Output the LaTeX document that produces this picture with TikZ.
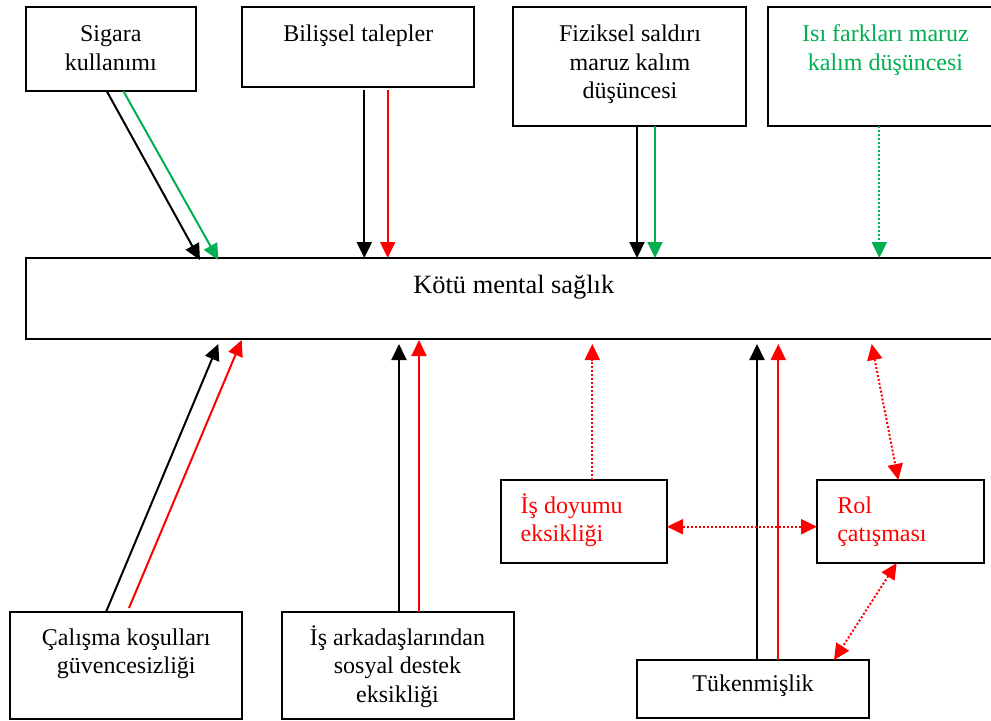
\documentclass[tikz,border=0pt]{standalone}
\usepackage{fontspec}
\setmainfont{Liberation Serif}
\usetikzlibrary{arrows.meta,calc}
\definecolor{wgreen}{RGB}{0,176,80}
\definecolor{wred}{RGB}{255,0,0}
\newcommand{\fl}{\rule{0pt}{12pt}}
\begin{document}
\begin{tikzpicture}[x=0.5pt,y=-0.5pt,
  box/.style n args={2}{draw=black, line width=0.8pt, rectangle, inner sep=0pt, outer sep=0pt,
    anchor=north west, minimum width=#1*0.5pt, minimum height=#2*0.5pt},
  txt/.style={inner sep=0pt, outer sep=0pt, font=\fontsize{12}{14.3}\selectfont, align=center},
  arr/.style={line width=1pt, -{Triangle[length=8pt,width=7.5pt]}},
  darr/.style={line width=1pt, {Triangle[length=8pt,width=7.5pt]}-{Triangle[length=8pt,width=7.5pt]}},
  dotl/.style={dash pattern=on 1pt off 1pt}
]
\useasboundingbox (0,0) rectangle (991,720);
\clip (0,0) rectangle (991,720);
\fill[white] (0,0) rectangle (991,720);

% boxes
\node[box={170}{84}]  (sig)  at (26,7) {};
\node[box={232}{80}]  (bil)  at (242,7) {};
\node[box={233}{119}] (fiz)  at (513,7) {};
\node[box={235}{119}] (isi)  at (768,7) {};
\node[box={974}{81}]  (main) at (26,258) {};
\node[box={166}{83}]  (doy)  at (501,480) {};
\node[box={167}{83}]  (rol)  at (817,480) {};
\node[box={232}{58}]  (tuk)  at (637,660) {};
\node[box={232}{107}] (cal)  at (10,612) {};
\node[box={232}{107}] (ark)  at (282,612) {};

% texts
\node[txt, anchor=north] (tsig) at (110.8,17.7) {\fl Sigara\\kullanımı};
\node[txt, anchor=base] (tbil) at (358.3,41.7) {Bilişsel talepler};
\node[txt, anchor=north] (tfiz) at (630,17.7) {\fl Fiziksel saldırı\\maruz kalım\\düşüncesi};
\node[txt, anchor=north, text=wgreen] (tisi) at (885.5,17.7) {\fl Isı farkları maruz\\kalım düşüncesi};
\node[inner sep=0pt, font=\fontsize{13.2}{16}\selectfont, anchor=base] (tmain) at (513.8,293.3) {Kötü mental sağlık};
\node[txt, anchor=north west, align=left, text=wred] (tdoy) at (520.7,489) {\fl İş doyumu\\eksikliği};
\node[txt, anchor=north west, align=left, text=wred] (trol) at (837.3,489) {\fl Rol\\çatışması};
\node[txt, anchor=base] (ttuk) at (753,691.7) {Tükenmişlik};
\node[txt, anchor=north] (tcal) at (126.3,621) {\fl Çalışma koşulları\\güvencesizliği};
\node[txt, anchor=north] (tark) at (397.5,621) {\fl İş arkadaşlarından\\sosyal destek\\eksikliği};

% top arrows
\draw[arr] ($(sig.south west)+(80.7,0)$) -- ($(main.north west)+(174,2)$);
\draw[arr, wgreen] ($(sig.south west)+(97.3,0)$) -- ($(main.north west)+(192.3,2)$);
\draw[arr] ($(bil.south west)+(122.3,3.4)$) -- ($(main.north west)+(338.3,0)$);
\draw[arr, wred] ($(bil.south west)+(145.7,3.4)$) -- ($(main.north west)+(361.7,0)$);
\draw[arr] ($(fiz.south west)+(124,0)$) -- ($(main.north west)+(611,0)$);
\draw[arr, wgreen] ($(fiz.south west)+(142,0)$) -- ($(main.north west)+(629,0)$);
\draw[arr, wgreen, dotl] ($(isi.south west)+(111.3,0)$) -- ($(main.north west)+(853.3,0)$);

% bottom arrows
\draw[arr] ($(cal.north west)+(96,0)$) -- ($(main.south west)+(192.3,5)$);
\draw[arr, wred] ($(cal.north west)+(119,-4)$) -- ($(main.south west)+(215.7,1)$);
\draw[arr] ($(ark.north west)+(117,0)$) -- ($(main.south west)+(373,5)$);
\draw[arr, wred] ($(ark.north west)+(137,0)$) -- ($(main.south west)+(393,1)$);
\draw[arr, wred, dotl] ($(doy.north west)+(91.3,0)$) -- ($(main.south west)+(566.3,5)$);
\draw[arr] ($(tuk.north west)+(120,0)$) -- ($(main.south west)+(731,5)$);
\draw[arr, wred] ($(tuk.north west)+(141.3,0)$) -- ($(main.south west)+(752.3,5)$);
\draw[darr, wred, dotl] ($(main.south west)+(845.7,5)$) -- ($(rol.north west)+(81.3,0)$);
\draw[darr, wred, dotl] ($(doy.north east)+(0,46.7)$) -- ($(rol.north west)+(0,46.7)$);
\draw[darr, wred, dotl] ($(rol.south west)+(79.7,0)$) -- ($(tuk.north west)+(197,0)$);
\end{tikzpicture}
\end{document}
